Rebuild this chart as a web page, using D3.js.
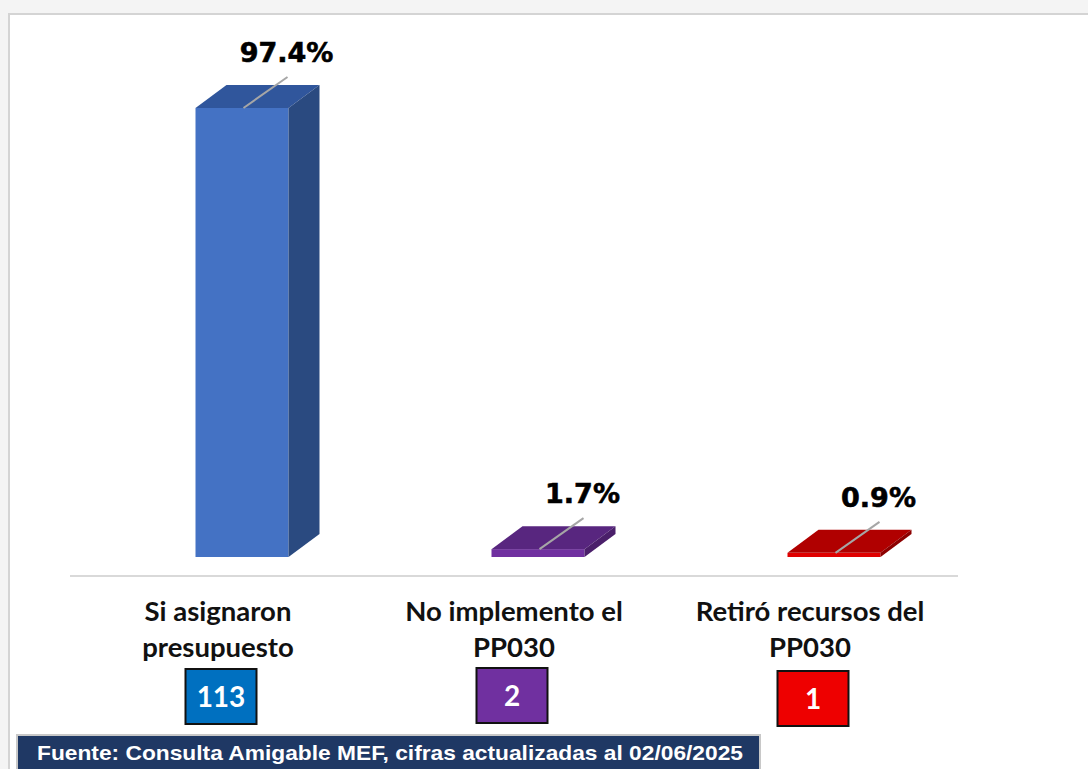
<!DOCTYPE html>
<html>
<head>
<meta charset="utf-8">
<script src="https://cdn.jsdelivr.net/npm/d3@7"></script>
<style>
  body { margin: 0; background: #f4f4f4; }
  svg { display: block; }
</style>
</head>
<body>
<div id="chart"></div>
<script>
// data
var categories = ["Si asignaron presupuesto", "No implemento el PP030", "Retiró recursos del PP030"];
var labelLines = [["Si asignaron", "presupuesto"], ["No implemento el", "PP030"], ["Retiró recursos del", "PP030"]];
var percents = [97.4, 1.7, 0.9];
var counts = [113, 2, 1];
var source = "Fuente: Consulta Amigable MEF, cifras actualizadas al 02/06/2025";

// colours
var frontColors = ["#4472c4", "#7030a0", "#e00000"];
var topColors = ["#30569c", "#58267f", "#b00000"];
var sideColors = ["#2a4a80", "#4a1f6a", "#8c0000"];
var boxColors = ["#0070c0", "#7030a0", "#ee0000"];

var width = 1088, height = 769;

var svg = d3.select("#chart").append("svg")
    .attr("width", width)
    .attr("height", height);

// background panel
svg.append("rect").attr("x", 0).attr("y", 0).attr("width", width).attr("height", height).attr("fill", "#f4f4f4");
svg.append("rect")
    .attr("x", 9).attr("y", 14)
    .attr("width", width).attr("height", height)
    .attr("fill", "#ffffff")
    .attr("stroke", "#d4d4d4")
    .attr("stroke-width", 2);

var xScale = d3.scaleBand().domain(categories).range([70, 958]);
var yScale = d3.scaleLinear().domain([0, 100]).range([557, 96]);

var barW = 93, dx = 31, dy = -23;
function frontX(d) { return xScale(d) + xScale.bandwidth() / 2 + 24 - barW / 2; }

// baseline
svg.append("line")
    .attr("x1", 70).attr("x2", 958)
    .attr("y1", 576).attr("y2", 576)
    .attr("stroke", "#d9d9d9")
    .attr("stroke-width", 2);

var bars = svg.selectAll(".bar")
    .data(categories)
    .enter()
    .append("g")
    .attr("class", "bar");

// front
bars.append("rect")
    .attr("x", function(d) { return frontX(d); })
    .attr("y", function(d, i) { return yScale(percents[i]); })
    .attr("width", barW)
    .attr("height", function(d, i) { return yScale(0) - yScale(percents[i]); })
    .attr("fill", function(d, i) { return frontColors[i]; });

// top
bars.append("path")
    .attr("d", function(d, i) {
        var x = frontX(d), t = yScale(percents[i]);
        return "M" + x + "," + t + "L" + (x + dx) + "," + (t + dy) + "L" + (x + barW + dx) + "," + (t + dy) + "L" + (x + barW) + "," + t + "Z";
    })
    .attr("fill", function(d, i) { return topColors[i]; });

// side
bars.append("path")
    .attr("d", function(d, i) {
        var x = frontX(d) + barW, t = yScale(percents[i]), b = yScale(0);
        return "M" + x + "," + t + "L" + (x + dx) + "," + (t + dy) + "L" + (x + dx) + "," + (b + dy) + "L" + x + "," + b + "Z";
    })
    .attr("fill", function(d, i) { return sideColors[i]; });

// leader lines
var lx = 44, ly = -31;
bars.append("line")
    .attr("x1", function(d) { return frontX(d) + 48; })
    .attr("y1", function(d, i) { return yScale(percents[i]); })
    .attr("x2", function(d) { return frontX(d) + 48 + lx; })
    .attr("y2", function(d, i) { return yScale(percents[i]) + ly; })
    .attr("stroke", "#a6a6a6")
    .attr("stroke-width", 2);

// value labels
bars.append("text")
    .text(function(d, i) { return percents[i].toFixed(1) + "%"; })
    .attr("x", function(d) { return frontX(d) + 48 + lx - 1; })
    .attr("y", function(d, i) { return yScale(percents[i]) + ly - 15; })
    .attr("text-anchor", "middle")
    .attr("font-family", "DejaVu Sans")
    .attr("font-weight", "bold")
    .attr("font-size", 27)
    .attr("fill", "#000")
    .attr("stroke", "#000")
    .attr("stroke-width", 0.6);

// category labels
var cats = svg.selectAll(".cat")
    .data(categories)
    .enter()
    .append("text")
    .attr("class", "cat")
    .attr("text-anchor", "middle")
    .attr("font-family", "Lato")
    .attr("font-weight", "bold")
    .attr("font-size", 27.5)
    .attr("fill", "#111");

cats.selectAll("tspan")
    .data(function(d, i) { return labelLines[i].map(function(l) { return { line: l, cat: d }; }); })
    .enter()
    .append("tspan")
    .text(function(d) { return d.line; })
    .attr("x", function(d) { return xScale(d.cat) + xScale.bandwidth() / 2; })
    .attr("y", function(d, j) { return 621 + j * 36; });

// count boxes
var boxW = 71, boxH = 55;
var boxes = svg.selectAll(".box")
    .data(categories)
    .enter()
    .append("g")
    .attr("class", "box");

boxes.append("rect")
    .attr("x", function(d, i) { return xScale(d) + xScale.bandwidth() / 2 - boxW / 2 + [3, -2, 3][i]; })
    .attr("y", function(d, i) { return [669, 668, 671][i]; })
    .attr("width", boxW)
    .attr("height", boxH)
    .attr("fill", function(d, i) { return boxColors[i]; })
    .attr("stroke", "#111")
    .attr("stroke-width", 2);

boxes.append("text")
    .text(function(d, i) { return counts[i]; })
    .attr("x", function(d, i) { return xScale(d) + xScale.bandwidth() / 2 + [3, -2, 3][i]; })
    .attr("y", function(d, i) { return [669, 668, 671][i] + 38; })
    .attr("text-anchor", "middle")
    .attr("font-family", "Lato")
    .attr("font-weight", "bold")
    .attr("font-size", 28)
    .attr("fill", "#fff");

// source footer
svg.append("rect")
    .attr("x", 17).attr("y", 735)
    .attr("width", 743).attr("height", 40)
    .attr("fill", "#1f3864")
    .attr("stroke", "#c8c8c8")
    .attr("stroke-width", 2);

svg.append("text")
    .text(source)
    .attr("x", 37)
    .attr("y", 760)
    .attr("font-family", "Liberation Sans")
    .attr("font-weight", "bold")
    .attr("font-size", 21)
    .attr("textLength", 706)
    .attr("lengthAdjust", "spacingAndGlyphs")
    .attr("fill", "#fff");
</script>
</body>
</html>
